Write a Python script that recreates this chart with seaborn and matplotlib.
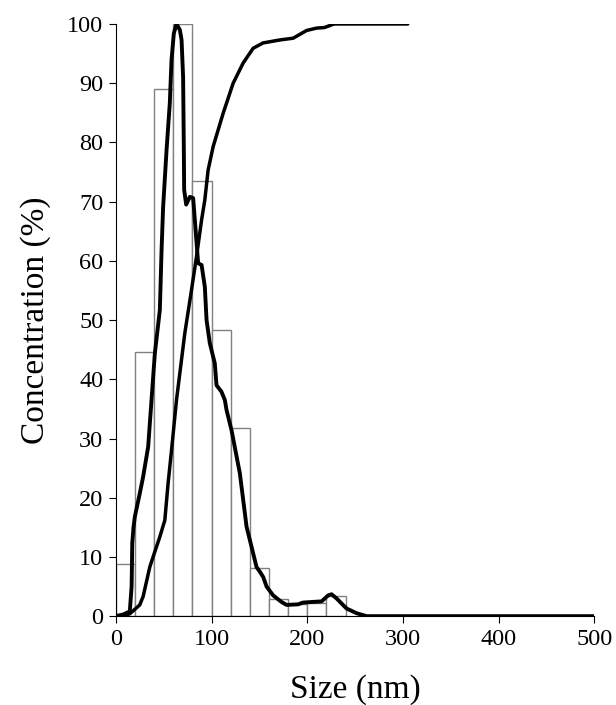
import numpy as np
import pandas as pd
import matplotlib
matplotlib.use("Agg")
import matplotlib.pyplot as plt
import seaborn as sns

# histogram bins (nm) and heights (%)
bin_edges = [0, 20, 40, 60, 80, 100, 120, 140, 160, 180, 200, 220, 240]
bin_heights = [8.8, 44.6, 89.1, 100, 73.5, 48.3, 31.7, 8.2, 2.9, 2.0, 2.2, 3.4]

# size distribution curve
dist_size = [0, 8, 14.6, 16.5, 17.2, 18.5, 19.9, 25, 28.5, 33.8, 37.3, 40.8, 46, 47.8, 49.4,
             53, 56.4, 58.2, 60.6, 63.4, 66.9, 68.7, 70.3, 71.0, 71.4, 73.5, 77.3, 80.8,
             83.6, 86, 89.6, 93, 94.8, 98.2, 103.4, 105.2, 110.4, 113.9, 115.7, 120.9,
             129.6, 136.6, 143.5, 147, 150.5, 154, 157.5, 164.4, 173.1, 178.4, 190.5,
             195.7, 215, 221.8, 225.4, 230.6, 241, 251.5, 262, 500]
dist_conc = [0, 0.3, 0.8, 5, 12.3, 15, 16.8, 20.7, 23.5, 28.6, 36.5, 44.4, 51.7, 61.8, 69,
             78.7, 86.6, 93.9, 98.4, 100, 99, 97.3, 91, 80, 72, 69.5, 70.8, 70.6,
             64.7, 59.6, 59.3, 55.6, 50, 46.1, 42.7, 39, 37.9, 36.5, 34.8, 31.4,
             24.1, 15.1, 10.6, 8.3, 7.5, 6.6, 5.0, 3.5, 2.4, 1.9, 2.0,
             2.3, 2.5, 3.5, 3.7, 3.0, 1.3, 0.5, 0, 0]

# cumulative curve
cum_size = [0, 8, 14.6, 25, 28.5, 35.5, 40.8, 46, 51.2, 54.6, 58.2, 63.4, 72.1, 79.1, 84.3,
            89.6, 93, 96.4, 101.7, 112.1, 122.6, 133, 143.5, 153.9, 171.4, 185.3, 199.3,
            209.7, 218, 228, 305]
cum_conc = [0, 0.1, 0.4, 1.9, 3.3, 8.3, 10.9, 13.4, 16.2, 22.4, 28, 36.5, 47.8, 55.1, 60.7,
            66.9, 70.3, 75.3, 79.3, 84.9, 90, 93.4, 95.9, 96.8, 97.3, 97.6, 98.9,
            99.3, 99.4, 100, 100]

sns.set_style("ticks")
plt.rcParams['font.family'] = ['Liberation Serif', 'DejaVu Serif']

fig = plt.figure(figsize=(6.16, 7.05), dpi=100)
ax = fig.add_axes([0.188, 0.126, 0.777, 0.84])

centers = [(a + b) / 2 for a, b in zip(bin_edges[:-1], bin_edges[1:])]
sns.histplot(x=centers, weights=bin_heights, bins=bin_edges, ax=ax,
             color="white", edgecolor="#808080", linewidth=1.0, alpha=1)

dist = pd.DataFrame({"size": dist_size, "conc": dist_conc})
cum = pd.DataFrame({"size": cum_size, "conc": cum_conc})
sns.lineplot(data=dist, x="size", y="conc", sort=False, color="black", linewidth=2.8, ax=ax)
sns.lineplot(data=cum, x="size", y="conc", sort=False, color="black", linewidth=2.5, ax=ax)

ax.set_xlim(0, 500)
ax.set_ylim(0, 100)
ax.set_xticks(range(0, 501, 100))
ax.set_yticks(range(0, 101, 10))
ax.tick_params(labelsize=17.5, length=5, width=0.8, colors="black", pad=4)
for s in ["left", "bottom"]:
    ax.spines[s].set_color("black")
    ax.spines[s].set_linewidth(0.8)
sns.despine(ax=ax)
ax.set_xlabel("Size (nm)", fontsize=24, labelpad=18, color="black")
ax.set_ylabel("Concentration (%)", fontsize=24, labelpad=12, color="black")

fig.savefig("out.png", dpi=100)
